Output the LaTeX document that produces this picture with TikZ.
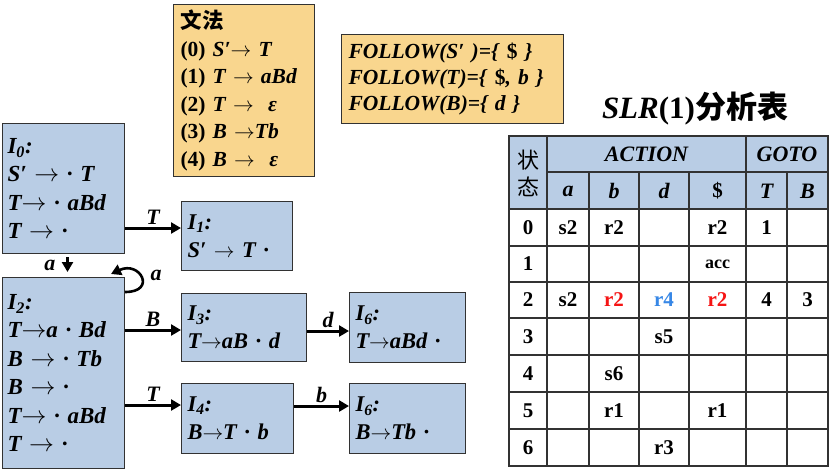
\documentclass[tikz,border=0pt]{standalone}
\usepackage{fontspec}
\setmainfont{Liberation Serif}
\newfontfamily\cjk{Noto Sans CJK SC}
\usepackage{xcolor}
\definecolor{itemBlue}{RGB}{185, 205, 229}
\definecolor{gramOrange}{RGB}{249, 214, 142}
\definecolor{boxDark}{RGB}{50, 50, 50}
\definecolor{conflictRed}{RGB}{245, 20, 20}
\definecolor{conflictBlue}{RGB}{55, 135, 230}
\usepackage{tikz}
\usetikzlibrary{
    arrows.meta,
    positioning
}
\newcommand{\isub}[1]{\textsubscript{#1}}
\newcommand{\rarr}{$\rightarrow$}

\begin{document}
\begin{tikzpicture}[
    x=1pt, y=-1pt,
    itemBox/.style={
        rectangle, draw=boxDark, line width=1pt,
        fill=itemBlue, anchor=north west, align=left,
        inner xsep=6pt, inner ysep=1pt,
        font=\bfseries\itshape\fontsize{23}{28.5}\selectfont
    },
    smallItem/.style={
        itemBox, font=\bfseries\itshape\fontsize{22.5}{28}\selectfont
    },
    noteBox/.style={
        rectangle, draw=boxDark, line width=1pt,
        fill=gramOrange, anchor=north west, align=left,
        inner xsep=8pt, inner ysep=2pt
    },
    edgeArrow/.style={
        -{Triangle[length=10pt, width=11pt]}, line width=3pt, draw=black
    },
    edgeLabel/.style={
        font=\bfseries\itshape\fontsize{22}{23}\selectfont, inner sep=2pt
    },
    tableLine/.style={
        draw=boxDark, line width=1.3pt
    },
    cellText/.style={
        font=\bfseries\fontsize{21}{22}\selectfont, inner sep=0pt
    },
    headText/.style={
        font=\bfseries\itshape\fontsize{22}{23}\selectfont, inner sep=0pt
    }
]
    \useasboundingbox (0,0) rectangle (830,472);

    % Grammar and FOLLOW sets
    \node[noteBox, minimum width=141, minimum height=172, text width=127,
          inner xsep=7pt, font=\bfseries\fontsize{21.5}{27.5}\selectfont] (grammar) at (173,4) {
        {\cjk\bfseries 文法}\\
        (0) \textit{S′\rarr\ T}\\
        (1) \textit{T \rarr\ aBd}\\
        (2) \textit{T \rarr~ ε}\\
        (3) \textit{B \rarr Tb}\\
        (4) \textit{B \rarr~ ε}
    };

    \node[noteBox, minimum width=222, minimum height=89, text width=208,
          inner xsep=7pt, font=\bfseries\itshape\fontsize{21.5}{26}\selectfont] (follow) at (341,34) {
        FOLLOW(S′ )=\{ \textup{\$} \}\\
        FOLLOW(T)=\{ \textup{\$}, b \}\\
        FOLLOW(B)=\{ d \}
    };

    % Item sets
    \node[itemBox, minimum width=122, minimum height=130, text width=112,
          inner xsep=5pt] (I0) at (2,123) {
        I\isub{0}:\\
        S′ \rarr\ · T\\
        T\rarr\ · aBd\\
        T \rarr\ ·
    };

    \node[smallItem, minimum width=111, minimum height=69, text width=99] (I1) at (181,201) {
        I\isub{1}:\\
        S′ \rarr\ T ·
    };

    \node[itemBox, minimum width=122, minimum height=191, text width=112,
          inner xsep=5pt] (I2) at (2,277) {
        I\isub{2}:\\
        T\rarr a · Bd\\
        B \rarr\ · Tb\\
        B \rarr\ ·\\
        T\rarr\ · aBd\\
        T \rarr\ ·
    };

    \node[smallItem, minimum width=125, minimum height=68, text width=113] (I3) at (181,293) {
        I\isub{3}:\\
        T\rarr aB · d
    };

    \node[smallItem, minimum width=116, minimum height=70, text width=104] (I6a) at (349,292) {
        I\isub{6}:\\
        T\rarr aBd ·
    };

    \node[smallItem, minimum width=112, minimum height=70, text width=100] (I4) at (181,383) {
        I\isub{4}:\\
        B\rarr T · b
    };

    \node[smallItem, minimum width=116, minimum height=70, text width=104] (I6b) at (349,383) {
        I\isub{6}:\\
        B\rarr Tb ·
    };

    % Transitions
    \draw[edgeArrow] (I0.east |- 0,228) -- node[edgeLabel, above] {T} (I1.west |- 0,228);
    \draw[edgeArrow, line width=2.4pt, shorten <=3pt, shorten >=5pt] ([xshift=4pt]I0.south) -- node[edgeLabel, left=9pt] {a} ([xshift=4pt]I2.north);
    \draw[edgeArrow, line width=2.6pt] ([yshift=-15pt]I2.north east) to[out=0, in=25, looseness=3.6]
        coordinate[pos=0.4] (loopTip) ([xshift=-14pt, yshift=3pt]I2.north east);
    \node[edgeLabel, right=6pt of loopTip, yshift=6pt] (loopLabel) {a};
    \draw[edgeArrow] (I2.east |- 0,330) -- node[edgeLabel, above] {B} (I3.west |- 0,330);
    \draw[edgeArrow] (I2.east |- 0,405) -- node[edgeLabel, above] {T} (I4.west |- 0,405);
    \draw[edgeArrow] (I3.east |- 0,331) -- node[edgeLabel, above] {d} (I6a.west |- 0,331);
    \draw[edgeArrow] (I4.east |- 0,406) -- node[edgeLabel, above] {b} (I6b.west |- 0,406);

    % SLR(1) table
    \node[font=\bfseries\fontsize{31}{33}\selectfont, inner sep=0pt] (slrTitle) at (695,109) {
        \textit{SLR}(1){\cjk 分析表}
    };

    \fill[itemBlue] (509,136) rectangle (828,209);
    \draw[tableLine] (509,136) rectangle (828,466);
    \draw[tableLine] (547,172) -- (828,172);
    \draw[tableLine] (509,209) -- (828,209);
    \draw[tableLine] (509,246) -- (828,246);
    \draw[tableLine] (509,282) -- (828,282);
    \draw[tableLine] (509,318) -- (828,318);
    \draw[tableLine] (509,355) -- (828,355);
    \draw[tableLine] (509,392) -- (828,392);
    \draw[tableLine] (509,429) -- (828,429);
    \draw[tableLine] (547,136) -- (547,466);
    \draw[tableLine] (746,136) -- (746,466);
    \draw[tableLine] (589,172) -- (589,466);
    \draw[tableLine] (639,172) -- (639,466);
    \draw[tableLine] (689,172) -- (689,466);
    \draw[tableLine] (787,172) -- (787,466);

    \node[font=\cjk\fontsize{22}{27}\selectfont, align=center, inner sep=0pt] (stateHead) at (528,173) {状\\态};
    \node[headText] (actionHead) at (646.5,154) {ACTION};
    \node[headText] (gotoHead) at (787,154) {GOTO};
    \node[headText] (colA) at (568,191) {a};
    \node[headText] (colB) at (614,191) {b};
    \node[headText] (colD) at (664,191) {d};
    \node[cellText] (colEnd) at (717.5,191) {\$};
    \node[headText] (colT) at (766.5,191) {T};
    \node[headText] (colBB) at (807.5,191) {B};

    \node[cellText] (row0) at (528,228) {0};
    \node[cellText] (row1) at (528,264) {1};
    \node[cellText] (row2) at (528,300) {2};
    \node[cellText] (row3) at (528,337) {3};
    \node[cellText] (row4) at (528,374) {4};
    \node[cellText] (row5) at (528,411) {5};
    \node[cellText] (row6) at (528,448) {6};

    \node[cellText] (a0) at (568,228) {s2};
    \node[cellText] (b0) at (614,228) {r2};
    \node[cellText] (end0) at (717.5,228) {r2};
    \node[cellText] (T0) at (766.5,228) {1};
    \node[cellText, font=\bfseries\fontsize{18}{19}\selectfont] (end1) at (717.5,264) {acc};
    \node[cellText] (a2) at (568,300) {s2};
    \node[cellText, text=conflictRed] (b2) at (614,300) {r2};
    \node[cellText, text=conflictBlue] (d2) at (664,300) {r4};
    \node[cellText, text=conflictRed] (end2) at (717.5,300) {r2};
    \node[cellText] (T2) at (766.5,300) {4};
    \node[cellText] (B2) at (807.5,300) {3};
    \node[cellText] (d3) at (664,337) {s5};
    \node[cellText] (b4) at (614,374) {s6};
    \node[cellText] (b5) at (614,411) {r1};
    \node[cellText] (end5) at (717.5,411) {r1};
    \node[cellText] (d6) at (664,448) {r3};

\end{tikzpicture}
\end{document}
